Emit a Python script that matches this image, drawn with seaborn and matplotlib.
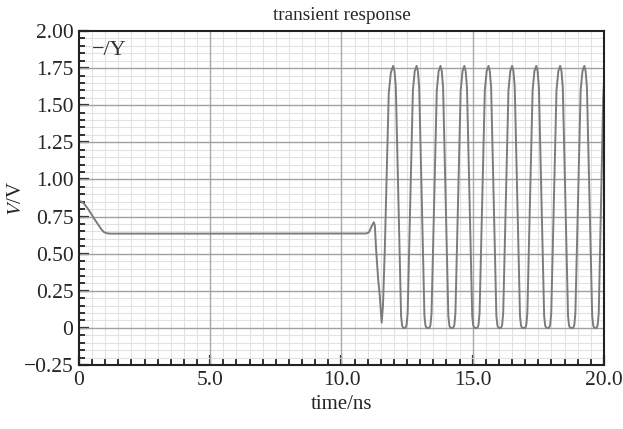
import matplotlib
matplotlib.use("Agg")
import matplotlib.pyplot as plt
import matplotlib.ticker as mticker
import numpy as np
import pandas as pd
import seaborn as sbn

# values (time in ns, voltage in V)
settle_t = [0.0, 0.1, 0.2, 0.35, 0.6, 0.85, 0.95, 1.05, 1.2, 5.0, 10.95]
settle_v = [0.855, 0.85, 0.835, 0.80, 0.73, 0.665, 0.645, 0.638, 0.635, 0.635, 0.636]

glitch_t = [11.05, 11.15, 11.23, 11.27, 11.32, 11.40, 11.45, 11.53, 11.58, 11.65, 11.80, 11.88]
glitch_v = [0.645, 0.685, 0.712, 0.69, 0.525, 0.32, 0.235, 0.035, 0.15, 0.53, 1.58, 1.72]

osc_t = [11.97, 12.02, 12.07, 12.27, 12.31, 12.35, 12.44, 12.48, 12.52, 12.72, 12.79,
         12.86, 12.91, 12.96, 13.16, 13.20, 13.24, 13.35, 13.39, 13.43, 13.63, 13.70,
         13.77, 13.82, 13.87, 14.07, 14.11, 14.15, 14.26, 14.30, 14.34, 14.54, 14.61,
         14.68, 14.73, 14.78, 14.98, 15.02, 15.06, 15.18, 15.22, 15.26, 15.46, 15.53,
         15.60, 15.65, 15.70, 15.90, 15.94, 15.98, 16.08, 16.12, 16.16, 16.36, 16.43,
         16.50, 16.55, 16.60, 16.80, 16.84, 16.88, 17.00, 17.04, 17.08, 17.28, 17.35,
         17.42, 17.47, 17.52, 17.72, 17.76, 17.80, 17.91, 17.95, 17.99, 18.19, 18.26,
         18.33, 18.38, 18.43, 18.63, 18.67, 18.71, 18.83, 18.87, 18.91, 19.11, 19.18,
         19.25, 19.30, 19.35, 19.55, 19.59, 19.63, 19.72, 19.76, 19.80, 19.97, 20.00]
osc_v = [1.765, 1.73, 1.62, 0.08, 0.015, 0.0, 0.0, 0.02, 0.10, 1.60, 1.73,
         1.765, 1.73, 1.62, 0.08, 0.015, 0.0, 0.0, 0.02, 0.10, 1.60, 1.73,
         1.765, 1.73, 1.62, 0.08, 0.015, 0.0, 0.0, 0.02, 0.10, 1.60, 1.73,
         1.765, 1.73, 1.62, 0.08, 0.015, 0.0, 0.0, 0.02, 0.10, 1.60, 1.73,
         1.765, 1.73, 1.62, 0.08, 0.015, 0.0, 0.0, 0.02, 0.10, 1.60, 1.73,
         1.765, 1.73, 1.62, 0.08, 0.015, 0.0, 0.0, 0.02, 0.10, 1.60, 1.73,
         1.765, 1.73, 1.62, 0.08, 0.015, 0.0, 0.0, 0.02, 0.10, 1.60, 1.73,
         1.765, 1.73, 1.62, 0.08, 0.015, 0.0, 0.0, 0.02, 0.10, 1.60, 1.73,
         1.765, 1.73, 1.62, 0.08, 0.015, 0.0, 0.0, 0.02, 0.10, 1.55, 1.66]

x_ticks = [0, 5, 10, 15, 20]
x_ticklabels = ["0", "5.0", "10.0", "15.0", "20.0"]
y_ticks = [-0.25, 0, 0.25, 0.5, 0.75, 1.0, 1.25, 1.5, 1.75, 2.0]
y_ticklabels = ["\u22120.25", "0", "0.25", "0.50", "0.75", "1.00", "1.25", "1.50", "1.75", "2.00"]

df = pd.DataFrame({"t": settle_t + glitch_t + osc_t,
                   "v": settle_v + glitch_v + osc_v})

sbn.set_style("white")
plt.rcParams['font.family'] = ['Liberation Serif', 'DejaVu Serif']
plt.rcParams['mathtext.fontset'] = 'stix'

fig = plt.figure(figsize=(6.23, 4.29), dpi=100)
ax = fig.add_axes([0.1268, 0.1492, 0.8427, 0.7785])

ax.xaxis.set_major_locator(mticker.FixedLocator(x_ticks))
ax.xaxis.set_minor_locator(mticker.MultipleLocator(0.5))
ax.yaxis.set_major_locator(mticker.FixedLocator(y_ticks))
ax.yaxis.set_minor_locator(mticker.MultipleLocator(0.05))
ax.grid(which='minor', color='#e2e2e2', lw=0.8)
ax.grid(which='major', visible=False)
ax.set_axisbelow(True)

# major grid drawn as lines so the light minor grid does not cut through it
for xv in x_ticks[1:-1]:
    ax.axvline(xv, color='#a8a8a8', lw=1.0, zorder=0.8)
for yv in y_ticks[1:-1]:
    ax.axhline(yv, color='#a0a0a0', lw=1.0, zorder=0.8)

sbn.lineplot(data=df, x="t", y="v", ax=ax, color='#7c7c7c', lw=1.4,
             estimator=None, sort=False)

ax.set_xlim(0, 20)
ax.set_ylim(-0.25, 2.0)
ax.set_xticklabels(x_ticklabels)
ax.set_yticklabels(y_ticklabels)

ax.tick_params(which='both', direction='in', color='#222222', bottom=True, left=True,
               top=False, right=False, labelsize=15.5, pad=4)
ax.tick_params(which='major', length=7, width=1.6)
ax.tick_params(which='minor', length=4, width=1.3)
for side in ax.spines.values():
    side.set_color('#222222')
    side.set_linewidth(1.5)

ax.set_xlabel("time/ns", fontsize=15, labelpad=4)
ax.set_ylabel("$V$/V", fontsize=15)
ax.yaxis.set_label_coords(-0.10, 0.5)
ax.set_title("transient response", fontsize=13.8, pad=8)
ax.text(0.025, 0.97, "\u2212/Y", transform=ax.transAxes, fontsize=16,
        va='top', ha='left', color='#333333')

fig.savefig("out.png", dpi=100)
